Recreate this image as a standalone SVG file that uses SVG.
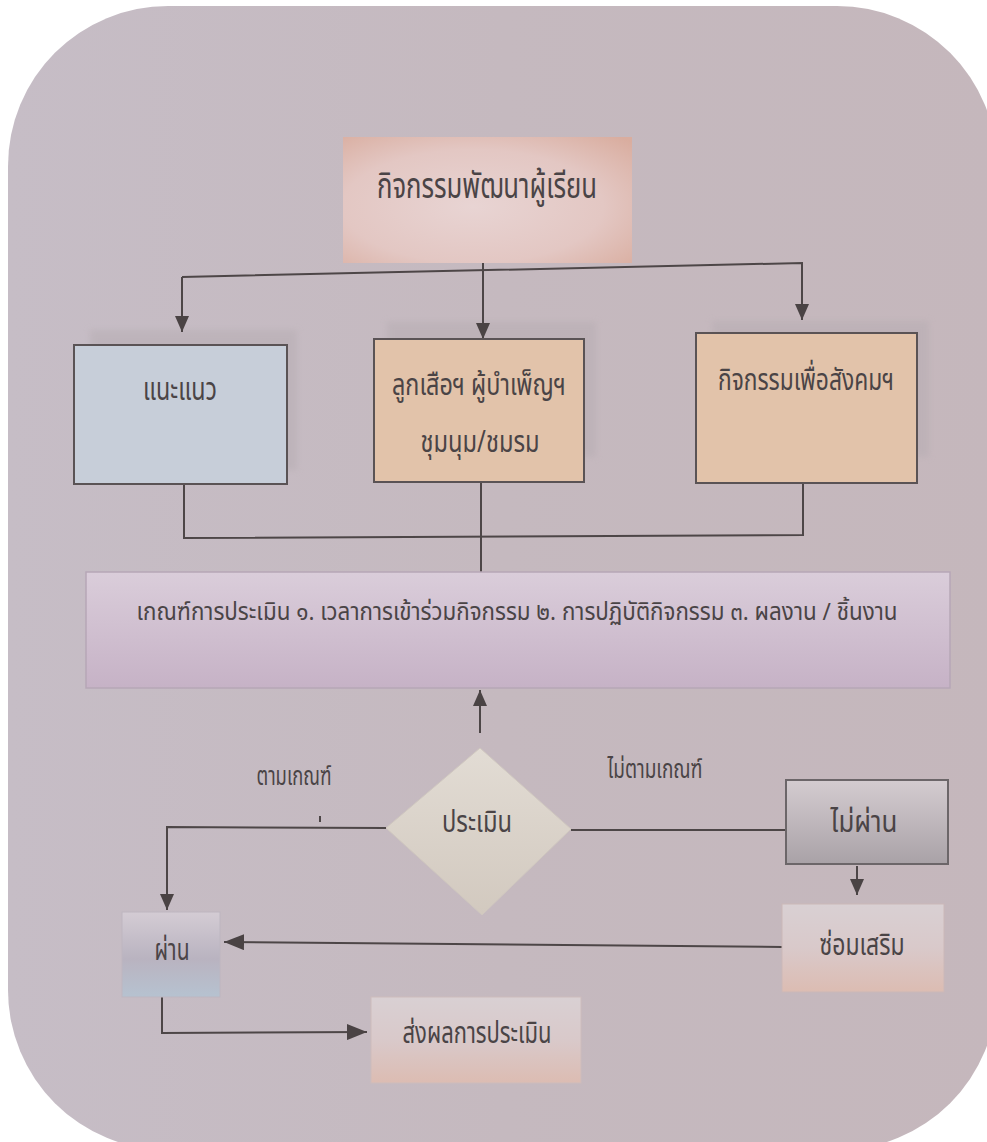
<svg xmlns="http://www.w3.org/2000/svg" width="987" height="1142" viewBox="0 0 987 1142">
<defs>
<linearGradient id="bg" x1="0" y1="0" x2="1" y2="0">
<stop offset="0" stop-color="#c6bdc6"/><stop offset="0.5" stop-color="#c5b9bf"/><stop offset="1" stop-color="#c5b7bc"/>
</linearGradient>
<radialGradient id="gTitle" cx="0.45" cy="0.55" r="0.75">
<stop offset="0" stop-color="#e8d4d3"/><stop offset="0.6" stop-color="#e3c7c3"/><stop offset="1" stop-color="#d9ad9f"/>
</radialGradient>
<linearGradient id="gCrit" x1="0" y1="0" x2="0" y2="1">
<stop offset="0" stop-color="#dacdda"/><stop offset="1" stop-color="#c6b2c6"/>
</linearGradient>
<linearGradient id="gDia" x1="0" y1="0" x2="0" y2="1">
<stop offset="0" stop-color="#e2dcd4"/><stop offset="1" stop-color="#d2c9bf"/>
</linearGradient>
<linearGradient id="gFail" x1="0" y1="0" x2="0" y2="1">
<stop offset="0" stop-color="#d4ccd0"/><stop offset="1" stop-color="#a9a2a7"/>
</linearGradient>
<linearGradient id="gSalmon" x1="0" y1="0" x2="0" y2="1">
<stop offset="0" stop-color="#d9d0d3"/><stop offset="0.5" stop-color="#d9c9ca"/><stop offset="1" stop-color="#dcbcb2"/>
</linearGradient>
<linearGradient id="gPass" x1="0" y1="0" x2="0" y2="1">
<stop offset="0" stop-color="#d4ccd4"/><stop offset="0.55" stop-color="#b9b3c0"/><stop offset="1" stop-color="#b6c2d0"/>
</linearGradient>
<filter id="blur" x="-10%" y="-10%" width="120%" height="120%"><feGaussianBlur stdDeviation="3"/></filter>
<marker id="arr" viewBox="0 0 16 14" refX="16" refY="7" markerWidth="16" markerHeight="14" markerUnits="userSpaceOnUse" orient="auto">
<path d="M0,0 L16,7 L0,14 Z" fill="#4a4344"/>
</marker>
<marker id="arrL" viewBox="0 0 20 16" refX="20" refY="8" markerWidth="20" markerHeight="16" markerUnits="userSpaceOnUse" orient="auto">
<path d="M0,0 L20,8 L0,16 Z" fill="#4a4344"/>
</marker>
</defs>
<style>
text{font-family:"Noto Sans Thai","Noto Sans","DejaVu Sans",sans-serif;fill:#4a4446;text-anchor:middle}
.ln{fill:none;stroke:#4d4647;stroke-width:2}
.bx{stroke:#5a5355;stroke-width:2}
.sh{fill:#b7adb3;opacity:0.55;filter:url(#blur)}
</style>
<rect x="8" y="6" width="989" height="1144" rx="160" ry="160" fill="url(#bg)"/>

<g id="shadows">
<rect class="sh" x="90" y="330" width="207" height="140"/>
<rect class="sh" x="387" y="322" width="209" height="135"/>
<rect class="sh" x="712" y="321" width="217" height="136"/>
</g>

<g id="connectors">
<polyline class="ln" points="483,263 483,339" marker-end="url(#arr)"/>
<polyline class="ln" points="182,277 802,263 802,320" marker-end="url(#arr)"/>
<line class="ln" x1="182" y1="277" x2="182" y2="332" marker-end="url(#arr)"/>
<polyline class="ln" points="184,484 184,538 803,535 803,483"/>
<line class="ln" x1="481" y1="482" x2="481" y2="573"/>
<line class="ln" x1="480" y1="733" x2="480" y2="690" stroke-width="2.5" marker-end="url(#arr)"/>
<polyline class="ln" points="386,828 167,827 167,910" marker-end="url(#arr)"/>
<line class="ln" x1="320" y1="816" x2="320" y2="822"/>
<line class="ln" x1="571" y1="830" x2="786" y2="830"/>
<line class="ln" x1="857" y1="866" x2="857" y2="895" marker-end="url(#arr)"/>
<line class="ln" x1="782" y1="947" x2="224" y2="942" stroke-width="3" marker-end="url(#arrL)"/>
<polyline class="ln" points="162,997 162,1033 367,1032" stroke-width="2.5" marker-end="url(#arrL)"/>
</g>

<g id="n-title">
<rect x="343" y="137" width="289" height="126" fill="url(#gTitle)"/>
<text x="487" y="198" font-size="35" textLength="220" lengthAdjust="spacingAndGlyphs">กิจกรรมพัฒนาผู้เรียน</text>
</g>

<g id="n-guidance">
<rect class="bx" x="74" y="345" width="213" height="139" fill="#c7ced9"/>
<text x="180" y="400" font-size="32" textLength="74" lengthAdjust="spacingAndGlyphs">แนะแนว</text>
</g>

<g id="n-scout">
<rect class="bx" x="374" y="339" width="210" height="143" fill="#e2c3aa"/>
<text x="479" y="395" font-size="30" textLength="174" lengthAdjust="spacingAndGlyphs">ลูกเสือฯ ผู้บำเพ็ญฯ</text>
<text x="480" y="452" font-size="30" textLength="119" lengthAdjust="spacingAndGlyphs">ชุมนุม/ชมรม</text>
</g>

<g id="n-social">
<rect class="bx" x="696" y="333" width="221" height="150" fill="#e2c3aa"/>
<text x="806" y="390" font-size="30" textLength="176" lengthAdjust="spacingAndGlyphs">กิจกรรมเพื่อสังคมฯ</text>
</g>

<g id="n-criteria">
<rect x="86" y="572" width="864" height="116" fill="url(#gCrit)" stroke="#b6a7b6" stroke-width="1.5"/>
<text x="517" y="620" font-size="24" textLength="761" lengthAdjust="spacingAndGlyphs">เกณฑ์การประเมิน ๑. เวลาการเข้าร่วมกิจกรรม ๒. การปฏิบัติกิจกรรม ๓. ผลงาน / ชิ้นงาน</text>
</g>

<g id="n-evaluate">
<polygon points="480,748 571,829 482,915 386,828" fill="url(#gDia)" stroke="#cfc7bf" stroke-width="1"/>
<text x="477" y="832" font-size="30" textLength="70" lengthAdjust="spacingAndGlyphs">ประเมิน</text>
</g>

<g id="labels">
<text x="294" y="785" font-size="26" textLength="75" lengthAdjust="spacingAndGlyphs">ตามเกณฑ์</text>
<text x="655" y="778" font-size="26" textLength="95" lengthAdjust="spacingAndGlyphs">ไม่ตามเกณฑ์</text>
</g>

<g id="n-fail">
<rect x="786" y="780" width="162" height="84" fill="url(#gFail)" stroke="#6c6669" stroke-width="2"/>
<text x="864" y="832" font-size="30" textLength="67" lengthAdjust="spacingAndGlyphs">ไม่ผ่าน</text>
</g>

<g id="n-remedial">
<rect x="782" y="904" width="162" height="88" fill="url(#gSalmon)" stroke="#cbb8b8" stroke-width="1"/>
<text x="862" y="955" font-size="30" textLength="85" lengthAdjust="spacingAndGlyphs">ซ่อมเสริม</text>
</g>

<g id="n-pass">
<rect x="122" y="912" width="98" height="85" fill="url(#gPass)" stroke="#bdb6c0" stroke-width="1"/>
<text x="172" y="960" font-size="30" textLength="35" lengthAdjust="spacingAndGlyphs">ผ่าน</text>
</g>

<g id="n-report">
<rect x="371" y="997" width="210" height="86" fill="url(#gSalmon)" stroke="#cdbcbc" stroke-width="1"/>
<text x="477" y="1043" font-size="30" textLength="149" lengthAdjust="spacingAndGlyphs">ส่งผลการประเมิน</text>
</g>
</svg>
